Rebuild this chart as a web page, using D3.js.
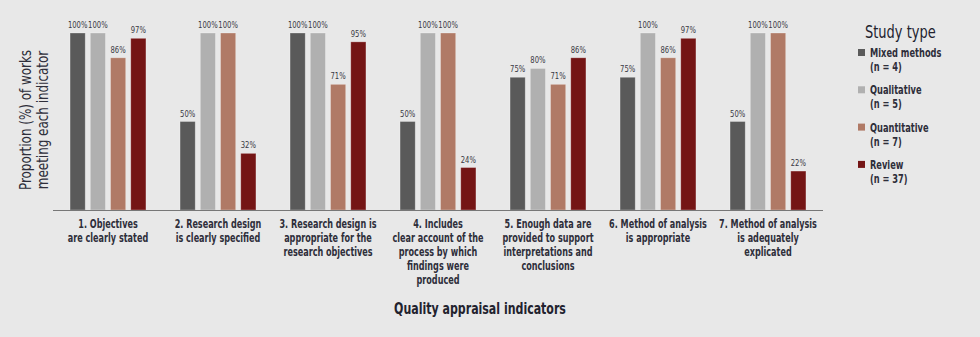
<!DOCTYPE html>
<html><head><meta charset="utf-8">
<script src="https://cdn.jsdelivr.net/npm/d3@7"></script>
<style>
html,body{margin:0;padding:0;background:#e8e8e8;}
svg{display:block;}
</style></head>
<body>
<script>
const categories = [
  ["1. Objectives","are clearly stated"],
  ["2. Research design","is clearly specified"],
  ["3. Research design is","appropriate for the","research objectives"],
  ["4. Includes","clear account of the","process by which","findings were","produced"],
  ["5. Enough data are","provided to support","interpretations and","conclusions"],
  ["6. Method of analysis","is appropriate"],
  ["7. Method of analysis","is adequately","explicated"]
];
const seriesNames = ["Mixed methods","Qualitative","Quantitative","Review"];
const seriesN = ["(n = 4)","(n = 5)","(n = 7)","(n = 37)"];
const mixed = [100,50,100,50,75,75,50];
const qualitative = [100,100,100,100,80,100,100];
const quantitative = [86,100,71,100,71,86,100];
const review = [97,32,95,24,86,97,22];
const colors = ["#5a5a5a","#b0b0b0","#b07a66","#741515"];

const W=980,H=337;
const font = "'DejaVu Sans Condensed','DejaVu Sans',sans-serif";
const svg = d3.select("body").append("svg").attr("width",W).attr("height",H)
  .style("background","#e8e8e8");

// condensed text helper: text placed at (x,y) and squeezed horizontally
function ctext(parent, x, y, sx, str, opts){
  const t = parent.append("text")
    .attr("transform",`translate(${x},${y}) scale(${sx},1)`)
    .attr("font-family",font).text(str);
  for (const k in opts) t.attr(k, opts[k]);
  return t;
}

const x0 = d3.scaleBand().domain(d3.range(7)).range([53,823]).paddingInner(0.31).paddingOuter(0.155);
const x1 = d3.scaleBand().domain(d3.range(4)).range([0,x0.bandwidth()]).paddingInner(0.25);
const y = d3.scaleLinear().domain([0,100]).range([210,33]);

const data = [mixed,qualitative,quantitative,review];

categories.forEach((c,i)=>{
  const gg = svg.append("g").attr("transform",`translate(${x0(i)},0)`);
  data.forEach((s,j)=>{
    gg.append("rect").attr("x",x1(j)).attr("y",y(s[i])).attr("width",x1.bandwidth())
      .attr("height",y(0)-y(s[i])).attr("fill",colors[j])
      .attr("stroke","rgba(255,255,255,0.35)").attr("stroke-width",0.8);
    ctext(gg, x1(j)+x1.bandwidth()/2, y(s[i])-5, 0.8, s[i]+"%",
      {"text-anchor":"middle","font-size":9.5,"fill":"#3a3a44"});
  });
  c.forEach((line,k)=>{
    ctext(svg, x0(i)+x0.bandwidth()/2, 228+k*13.9, 0.72, line,
      {"text-anchor":"middle","font-size":12.5,"font-weight":"bold","fill":"#2e2e3a"});
  });
});

// baseline
svg.append("line").attr("x1",53).attr("x2",823).attr("y1",y(0)+0.5).attr("y2",y(0)+0.5)
  .attr("stroke","#777").attr("stroke-width",1);

// axis titles
ctext(svg, 480, 314, 0.79, "Quality appraisal indicators",
  {"text-anchor":"middle","font-size":15.5,"font-weight":"bold","fill":"#22222e"});

const yl = svg.append("g").attr("transform","translate(0,120) rotate(-90)");
ctext(yl, 0, 31, 0.83, "Proportion (%) of works", {"text-anchor":"middle","font-size":16,"fill":"#2e2e3a"});
ctext(yl, 0, 48, 0.83, "meeting each indicator", {"text-anchor":"middle","font-size":16,"fill":"#2e2e3a"});

// legend
ctext(svg, 865, 38, 0.85, "Study type", {"font-size":17,"fill":"#22222e"});
seriesNames.forEach((n,j)=>{
  const yy = 57 + j*37.3;
  svg.append("rect").attr("x",858).attr("y",yy-8).attr("width",7).attr("height",7).attr("fill",colors[j]);
  ctext(svg, 870, yy, 0.8, n, {"font-size":11.5,"font-weight":"bold","fill":"#2e2e3a"});
  ctext(svg, 870, yy+14, 0.8, seriesN[j], {"font-size":11.5,"font-weight":"bold","fill":"#2e2e3a"});
});
</script>
</body></html>
